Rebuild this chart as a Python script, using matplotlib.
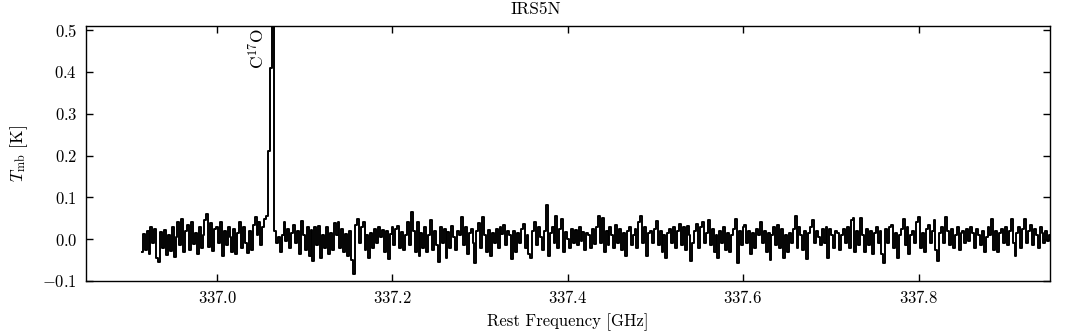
import numpy as np
import matplotlib
matplotlib.use("Agg")
import matplotlib.pyplot as plt

plt.rcParams["font.family"] = "serif"
plt.rcParams["font.serif"] = ["cmr10"]
plt.rcParams["mathtext.fontset"] = "cm"
plt.rcParams["axes.formatter.use_mathtext"] = True
plt.rcParams["axes.unicode_minus"] = True

# spectrum: first channel frequency and channel width [GHz]
freq_start = 336.914
chan_width = 0.0022

# brightness temperature per channel [K]
tmb_a = [-0.030, 0.012, -0.025, 0.020, -0.035, 0.030, -0.010, 0.025, -0.045, -0.054,
         0.018, -0.020, 0.022, -0.038, 0.010, -0.028, 0.030, -0.042, 0.005, 0.042,
         -0.015, 0.048, -0.030, 0.020, 0.035, -0.025, 0.040, -0.012, 0.015, -0.035,
         0.028, -0.020, 0.010, 0.045, 0.060, -0.018, 0.038, -0.028, 0.025, 0.030,
         -0.010, 0.042, -0.040, 0.020, -0.015, 0.030, 0.005]
tmb_b = [-0.030, 0.025, -0.035, 0.015, 0.040, -0.020, 0.030, -0.010, -0.032, 0.020,
         -0.025, 0.035, 0.052, 0.010, 0.040, -0.015, 0.030, 0.048, 0.056]
tmb_line = [0.21, 0.41, 0.62]
tmb_c = [0.020, -0.010, 0.005, -0.030, 0.010, 0.040, -0.005, 0.025, -0.020, 0.015,
         0.035, -0.010, 0.020, -0.036, 0.044, 0.010, -0.025, 0.030, -0.040, 0.022,
         -0.052, 0.030, -0.015, 0.032, -0.045, 0.010, -0.020]
tmb_d = [0.030, -0.035, 0.015, -0.025, 0.038, 0.010, 0.040, -0.020, 0.025, -0.030,
         0.012, -0.040, 0.020, -0.050, -0.084, 0.035, 0.048, -0.010, 0.030, 0.042,
         -0.025, 0.010, -0.044, 0.015, -0.020, 0.025, -0.010, 0.028, 0.005, 0.022,
         -0.030, 0.020, -0.048, 0.012, 0.030, -0.015, 0.025, 0.032, -0.020, 0.018,
         -0.025, 0.010, 0.040, -0.015, 0.064, 0.020, -0.030]
tmb_e = [0.040, -0.040, 0.015, -0.020, 0.030, -0.030, 0.010, 0.045, -0.025, 0.020,
         -0.015, -0.054, 0.030, -0.010, 0.025, -0.045, 0.018, -0.020, 0.032, 0.005,
         -0.025, 0.020, 0.010, 0.052, -0.015, 0.030, -0.035, 0.015, 0.025, -0.010,
         -0.056, 0.020, 0.038, -0.020, 0.052, 0.010, -0.030, 0.022, -0.040, 0.015,
         -0.010, 0.025, -0.020, 0.030, 0.012, 0.035, -0.015, 0.020]
tmb_f = [0.010, -0.048, 0.020, -0.030, 0.015, -0.010, 0.025, 0.036, -0.020, 0.010,
         -0.035, -0.044, 0.020, 0.040, -0.015, 0.030, 0.005, -0.025, 0.020, 0.082,
         -0.040, 0.015, 0.030, -0.010, 0.056, -0.020, 0.025, 0.048, -0.030, 0.018,
         0.000, -0.020, 0.025, -0.010, 0.022, -0.015, 0.030, -0.005, 0.018, -0.025,
         0.015, 0.010, -0.020, 0.025, -0.012, 0.030, 0.056, -0.010]
tmb_g = [0.050, -0.030, 0.020, -0.015, 0.030, 0.010, -0.020, 0.035, -0.010, 0.025,
         -0.025, 0.015, -0.040, 0.020, 0.030, -0.015, 0.010, 0.025, -0.020, 0.040,
         0.056, -0.010, 0.030, -0.040, 0.015, 0.020, -0.010, 0.025, 0.044, -0.015,
         0.020, -0.030, 0.010, -0.045, 0.015, 0.025, -0.010, 0.028, -0.020, 0.020,
         0.036, -0.015, 0.030, -0.025, 0.032, 0.010, -0.052, -0.010]
tmb_h = [0.020, 0.036, -0.020, 0.030, 0.040, -0.010, 0.015, 0.045, -0.015, 0.025,
         -0.030, 0.010, -0.045, 0.020, -0.010, 0.030, -0.025, 0.015, -0.030, 0.010,
         0.025, 0.048, -0.056, 0.020, -0.015, 0.030, 0.035, -0.010, 0.020, -0.035,
         0.015, -0.020, 0.025, 0.010, 0.040, -0.010, 0.020, -0.030, 0.015, -0.050,
         0.010, 0.030, -0.015, 0.035, -0.020, 0.025, -0.045, 0.010]
tmb_i = [-0.030, 0.015, -0.010, 0.025, 0.056, -0.020, 0.030, 0.010, -0.025, 0.020,
         -0.048, 0.015, 0.030, 0.045, -0.010, 0.020, 0.005, -0.015, 0.025, -0.010,
         0.030, -0.045, 0.025, 0.010, -0.020, 0.020, 0.015, -0.025, 0.010, 0.025,
         -0.010, 0.030, -0.020, 0.045, 0.050, -0.030, 0.020, -0.015, 0.050, 0.010,
         -0.030, 0.025, -0.015, 0.020, -0.035, 0.015, 0.030, -0.010]
tmb_j = [0.020, -0.035, -0.058, 0.025, -0.010, 0.030, 0.035, -0.020, 0.015, -0.045,
         0.010, 0.025, 0.048, -0.015, 0.030, -0.035, 0.010, 0.020, -0.010, 0.040,
         0.052, -0.020, 0.015, -0.030, 0.025, 0.035, -0.010, 0.020, 0.045, -0.025,
         -0.052, 0.015, 0.030, -0.010, 0.052, 0.020, -0.015, 0.025, -0.020, 0.010,
         0.030, -0.025, 0.015, 0.020, -0.010, 0.025, -0.005, 0.030]
tmb_k = [0.015, -0.020, 0.025, 0.010, -0.015, 0.020, -0.030, 0.005, 0.030, 0.010,
         0.048, -0.025, 0.020, -0.030, 0.015, 0.025, -0.010, 0.030, -0.015, 0.020,
         0.048, -0.010, -0.040, 0.015, 0.030, -0.020, 0.025, 0.048, -0.010, 0.020,
         0.035, -0.015, 0.025, 0.010, -0.020, 0.030, 0.015, -0.010, 0.020, -0.005,
         0.010, -0.015, 0.020]

line_freq = 337.0614
line_label = r"C$^{17}$O"
source = "IRS5N"

tmb = np.array(tmb_a + tmb_b + tmb_line + tmb_c + tmb_d + tmb_e + tmb_f
               + tmb_g + tmb_h + tmb_i + tmb_j + tmb_k)
freq = freq_start + chan_width * np.arange(len(tmb))

fig = plt.figure(figsize=(10.72, 3.31), dpi=100)
ax = fig.add_axes([0.0799, 0.1511, 0.8996, 0.7704])
ax.plot(freq, tmb, color="black", lw=1.4, drawstyle="steps-mid")

ax.set_xlim(336.85, 337.95)
ax.set_ylim(-0.1, 0.51)
ax.set_xticks([337.0, 337.2, 337.4, 337.6, 337.8])
ax.set_yticks([-0.1, 0.0, 0.1, 0.2, 0.3, 0.4, 0.5])
ax.tick_params(direction="in", top=True, right=True, length=5, width=1,
               labelsize=12, pad=6)
for s in ax.spines.values():
    s.set_linewidth(1.0)

ax.annotate(line_label, xy=(line_freq, 0.505), xytext=(-3, 0),
            textcoords="offset points", rotation=90, ha="right", va="top",
            fontsize=12.5)

# title sits centred on the figure, not the axes
fig.suptitle(source, fontsize=12.5, x=0.5, y=0.995, va="top")
ax.set_xlabel("Rest Frequency [GHz]", fontsize=12, labelpad=5)
ax.set_ylabel(r"$T_{\rm mb}$ [K]", fontsize=12.5, labelpad=9)

fig.savefig("out.png", dpi=100)
